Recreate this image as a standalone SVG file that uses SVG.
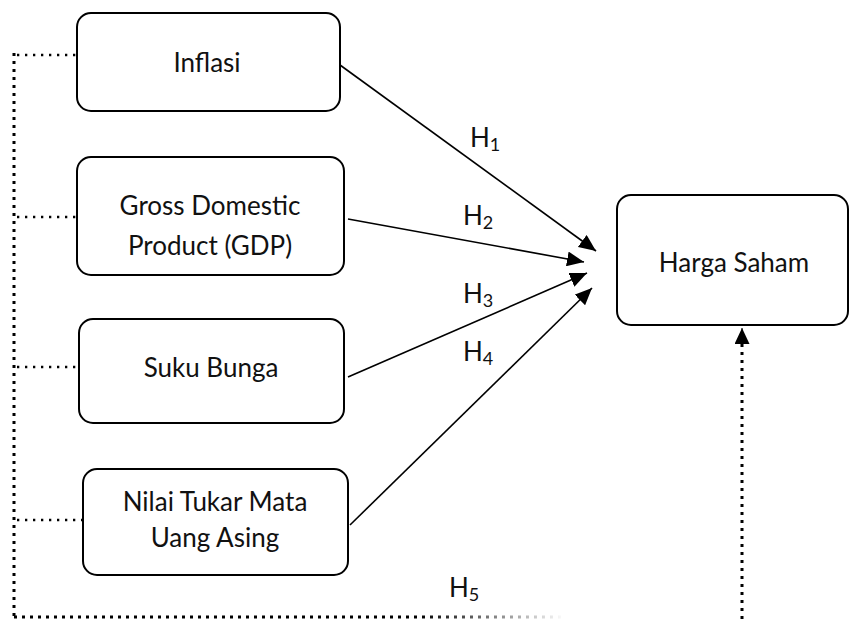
<svg xmlns="http://www.w3.org/2000/svg" width="850" height="619" viewBox="0 0 850 619">
  <style>
    .box { fill: #ffffff; stroke: #000000; stroke-width: 2; }
    .lbl { font-family: Lato, "Noto Sans", "Liberation Sans", sans-serif; font-size: 26px; fill: #111111; text-anchor: middle; }
    .h { font-family: Lato, "Noto Sans", "Liberation Sans", sans-serif; font-size: 26px; fill: #111111; }
    .sub { font-size: 18px; }
    .arrow { stroke: #000000; stroke-width: 1.6; fill: none; marker-end: url(#ah); }
    .dotv { stroke: #000000; stroke-width: 3; stroke-dasharray: 3 5; fill: none; }
    .doth { stroke: #000000; stroke-width: 2.3; stroke-dasharray: 2.3 5.7; fill: none; }
  </style>
  <defs>
    <marker id="ah" markerUnits="userSpaceOnUse" markerWidth="17" markerHeight="15" refX="17" refY="7.5" orient="auto">
      <path d="M0,0 L17,7.5 L0,15 z" fill="#000000"/>
    </marker>
    <marker id="ahd" markerUnits="userSpaceOnUse" markerWidth="16" markerHeight="15" refX="16" refY="7.5" orient="auto">
      <path d="M0,0 L16,7.5 L0,15 z" fill="#000000"/>
    </marker>
    <linearGradient id="fade" gradientUnits="userSpaceOnUse" x1="420" y1="0" x2="565" y2="0">
      <stop offset="0" stop-color="#000000" stop-opacity="1"/>
      <stop offset="1" stop-color="#000000" stop-opacity="0"/>
    </linearGradient>
  </defs>

  <g id="connectors">
    <path class="dotv" d="M14,53 L14,617"/>
    <path d="M14,617 L565,617" stroke="url(#fade)" stroke-width="3" stroke-dasharray="3 5" fill="none"/>
    <path class="doth" d="M17,55 L76,55"/>
    <path class="doth" d="M17,217 L77,217"/>
    <path class="doth" d="M17,367 L79,367"/>
    <path class="doth" d="M17,520 L83,520"/>
    <path class="dotv" d="M742,619 L742,344"/>
    <path d="M742,344 L742,328" stroke="#000000" stroke-width="1" fill="none" marker-end="url(#ahd)"/>
    <path class="arrow" d="M340,65 L596,251"/>
    <path class="arrow" d="M348,219 L584,262"/>
    <path class="arrow" d="M348,377 L587,273"/>
    <path class="arrow" d="M350,525 L592,288"/>
    <text class="h" x="470" y="147">H<tspan class="sub" dy="4">1</tspan></text>
    <text class="h" x="463" y="225">H<tspan class="sub" dy="4">2</tspan></text>
    <text class="h" x="463" y="303">H<tspan class="sub" dy="4">3</tspan></text>
    <text class="h" x="463" y="361">H<tspan class="sub" dy="4">4</tspan></text>
    <text class="h" x="449" y="597">H<tspan class="sub" dy="4">5</tspan></text>
  </g>

  <g id="inflasi">
    <rect class="box" x="77" y="13" width="263" height="98" rx="14"/>
    <text class="lbl" x="207" y="72">Inflasi</text>
  </g>
  <g id="gdp">
    <rect class="box" x="77" y="157" width="267" height="118" rx="14"/>
    <text class="lbl" x="210" y="215">Gross Domestic</text>
    <text class="lbl" x="210" y="255">Product (GDP)</text>
  </g>
  <g id="suku-bunga">
    <rect class="box" x="79" y="319" width="265" height="104" rx="14"/>
    <text class="lbl" x="211" y="377">Suku Bunga</text>
  </g>
  <g id="nilai-tukar">
    <rect class="box" x="83" y="469" width="265" height="106" rx="14"/>
    <text class="lbl" x="215" y="511">Nilai Tukar Mata</text>
    <text class="lbl" x="215" y="547">Uang Asing</text>
  </g>
  <g id="harga-saham">
    <rect class="box" x="617" y="195" width="231" height="130" rx="14"/>
    <text class="lbl" x="734" y="272">Harga Saham</text>
  </g>
</svg>
